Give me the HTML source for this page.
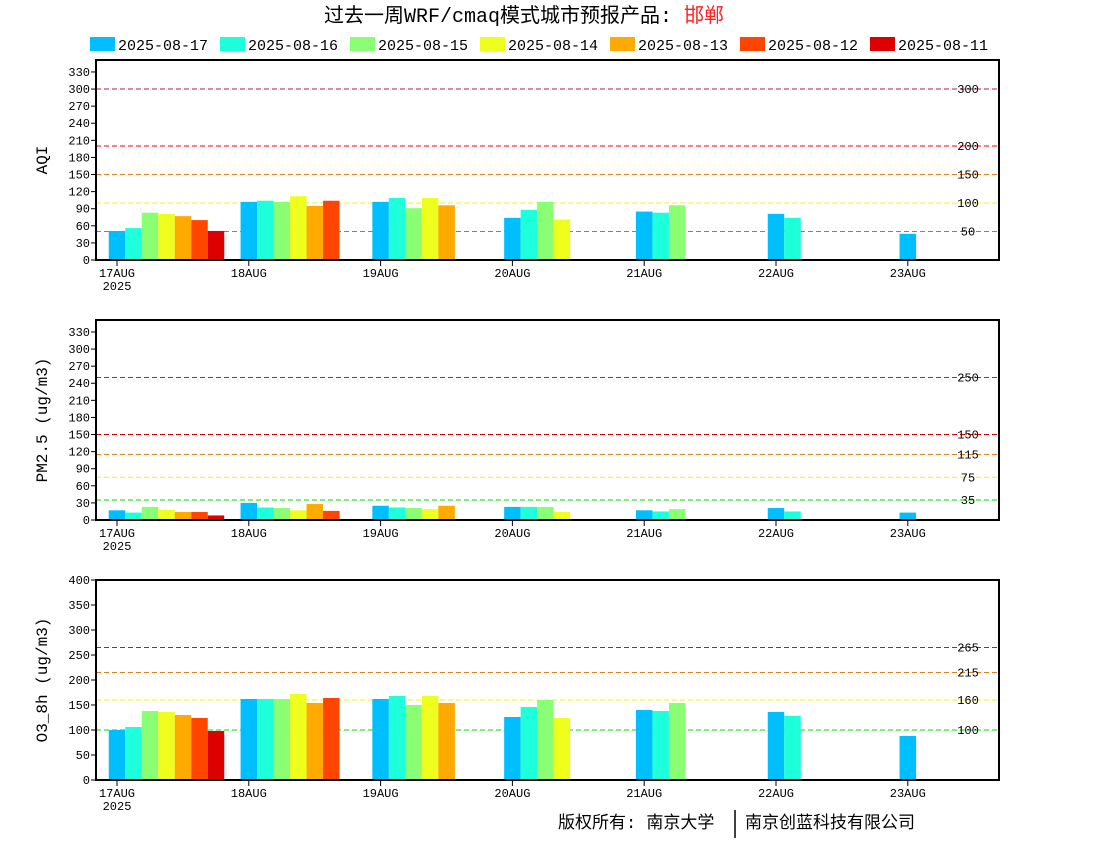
<!DOCTYPE html>
<html><head><meta charset="utf-8"><style>
body{margin:0;background:#fff}
svg text{font-family:"Liberation Mono","Noto Sans CJK SC",monospace;}
</style></head><body>
<svg id="c" width="1100" height="850" xmlns="http://www.w3.org/2000/svg">
<text x="524" y="22" text-anchor="middle" font-size="20" font-family="Liberation Serif, Noto Serif CJK SC, serif">过去一周WRF/cmaq模式城市预报产品: <tspan fill="#ff2020">邯郸</tspan></text>
<g id="legend"></g>
<g id="panels"></g>
<text x="558" y="828" font-size="17" font-family="Liberation Serif, Noto Serif CJK SC, serif">版权所有: 南京大学</text>
<line x1="735" y1="810" x2="735" y2="838" stroke="#000" stroke-width="1.5"/>
<text x="745" y="828" font-size="17" font-family="Liberation Serif, Noto Serif CJK SC, serif">南京创蓝科技有限公司</text>
</svg>
<script>
const seriesNames=["2025-08-17","2025-08-16","2025-08-15","2025-08-14","2025-08-13","2025-08-12","2025-08-11"];
const colors=["#00bfff","#1effdc","#8aff73","#eeff1e","#ffaa00","#ff4500","#dc0000"];
const days=["17AUG","18AUG","19AUG","20AUG","21AUG","22AUG","23AUG"];
const aqiValues=[[51,56,83,81,77,70,51],[102,104,102,112,95,104],[102,109,91,109,96],[74,88,102,71],[85,83,96],[81,74],[46]];
const pmValues=[[17,13,23,18,14,14,8],[30,22,21,17,28,16],[25,22,21,19,25],[23,23,23,14],[17,15,19],[21,15],[13]];
const o3Values=[[100,106,138,136,130,124,98],[162,162,162,172,154,164],[162,168,150,168,154],[126,146,160,124],[140,138,154],[136,128],[88]];
const aqiTicks=[0,30,60,90,120,150,180,210,240,270,300,330];
const pmTicks=[0,30,60,90,120,150,180,210,240,270,300,330];
const o3Ticks=[0,50,100,150,200,250,300,350,400];
const aqiRefs=[[300,"#c0105a"],[200,"#ff0000"],[150,"#e08020"],[100,"#f0f020"],[50,"#00dd00"]];
const pmRefs=[[250,"#dd0077"],[150,"#dd0000"],[115,"#e08020"],[75,"#f0f020"],[35,"#00dd00"]];
const o3Refs=[[265,"#ff0000"],[215,"#e08020"],[160,"#f0f020"],[100,"#00dd00"]];
const NS="http://www.w3.org/2000/svg";
function mk(p,t,a){const e=document.createElementNS(NS,t);for(const k in a)e.setAttribute(k,a[k]);p.appendChild(e);return e;}
const leg=document.getElementById('legend');
seriesNames.forEach((n,i)=>{const x=90+i*130;
const r=mk(leg,'rect',{x:x,y:37,width:25,height:14,fill:colors[i]});


const t=mk(leg,'text',{x:x+28,y:50,'font-size':15});t.textContent=n;

});
const L=96,R=999,x0=117,dx=131.8,bw=16.5;
function xs(d){return x0+d*dx;}
function panel(name,top,ymax,ticks,refs,vals,ylabel){
const g=mk(document.getElementById('panels'),'g',{});


const bot=top+200;const ys=v=>bot-v*200/ymax;
refs.forEach(([v,c])=>{const l=mk(g,'line',{x1:L,x2:R,y1:ys(v),y2:ys(v),stroke:c,'stroke-dasharray':'5,3','stroke-width':1});


const t=mk(g,'text',{x:968,y:ys(v)+4,'font-size':12,'text-anchor':'middle'});t.textContent=v;

});
vals.forEach((arr,d)=>arr.forEach((v,i)=>{const b=mk(g,'rect',{x:xs(d)-bw/2+i*bw,y:ys(v),width:bw,height:bot-ys(v),fill:colors[i]});

}));
const f=mk(g,'rect',{x:L,y:top,width:R-L,height:200,fill:'none',stroke:'#000','stroke-width':2});


ticks.forEach(v=>{mk(g,'line',{x1:L-5,x2:L,y1:ys(v),y2:ys(v),stroke:'#000'});
const t=mk(g,'text',{x:L-6,y:ys(v)+4,'font-size':12,'text-anchor':'end'});t.textContent=v;

});
days.forEach((dn,d)=>{mk(g,'line',{x1:xs(d),x2:xs(d),y1:bot,y2:bot+6,stroke:'#000'});
const t=mk(g,'text',{x:xs(d),y:bot+17,'font-size':12,'text-anchor':'middle'});t.textContent=dn;

});
const yr=mk(g,'text',{x:117,y:bot+30,'font-size':12,'text-anchor':'middle'});yr.textContent='2025';


const yl=mk(g,'text',{x:0,y:0,'font-size':16,'text-anchor':'middle',transform:`translate(47,${top+100}) rotate(-90)`});yl.textContent=ylabel;

}
panel('aqi',60,351,aqiTicks,aqiRefs,aqiValues,'AQI');
panel('pm25',320,351,pmTicks,pmRefs,pmValues,'PM2.5 (ug/m3)');
panel('o3',580,400,o3Ticks,o3Refs,o3Values,'O3_8h (ug/m3)');
</script>
</body></html>
